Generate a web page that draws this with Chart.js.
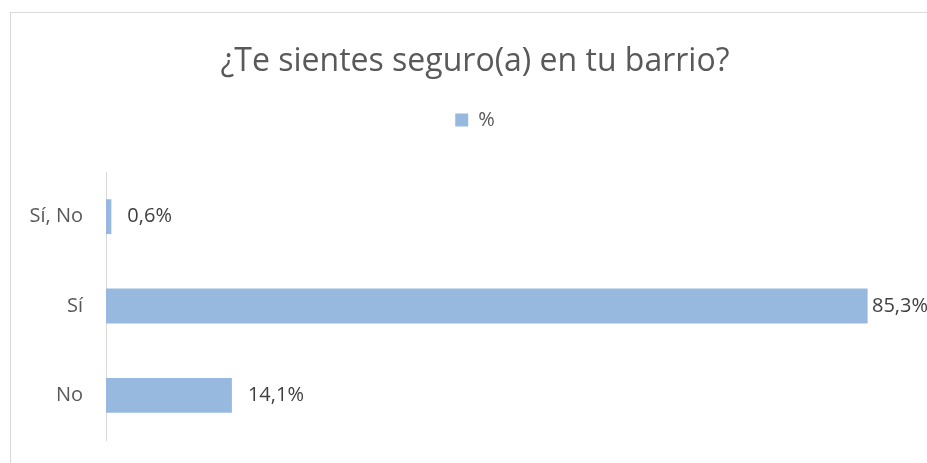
<!DOCTYPE html>
<html>
<head>
<meta charset="utf-8">
<script src="https://cdn.jsdelivr.net/npm/chart.js@4.4.0/dist/chart.umd.min.js"></script>
<style>
  html, body { margin: 0; padding: 0; background: #fff; overflow: hidden; }
  #wrap { width: 927px; height: 463px; overflow: hidden; }
</style>
</head>
<body>
<div id="wrap"><canvas id="barrioChart" width="950" height="463"></canvas></div>
<script>
// ===== datos =====
const categorias = ['Sí, No', 'Sí', 'No'];
const porcentajes = [0.6, 85.3, 14.1];
const serie = '%';
const titulo = '¿Te sientes seguro(a) en tu barrio?';

const fuente = '"Open Sans", "Noto Sans", sans-serif';

// marco gris del gráfico
const marco = {
  id: 'marco',
  beforeDraw(chart) {
    const c = chart.ctx;
    c.save();
    c.strokeStyle = '#d9d9d9';
    c.lineWidth = 1;
    c.strokeRect(10.5, 12.5, 2000, 2000);
    c.restore();
  }
};

// etiquetas de datos al final de cada barra (se recorren si no caben)
const etiquetas = {
  id: 'etiquetas',
  afterDatasetsDraw(chart) {
    const c = chart.ctx;
    const meta = chart.getDatasetMeta(0);
    c.save();
    c.font = '20px ' + fuente;
    c.fillStyle = '#404040';
    c.textBaseline = 'middle';
    c.textAlign = 'left';
    meta.data.forEach((bar, i) => {
      const txt = porcentajes[i].toFixed(1).replace('.', ',') + '%';
      const x = Math.min(bar.x + 16, 927 - 55);
      c.fillText(txt, x, bar.y);
    });
    c.restore();
  }
};

const ctx = document.getElementById('barrioChart').getContext('2d');
new Chart(ctx, {
  type: 'bar',
  data: {
    labels: categorias,
    datasets: [{
      label: serie,
      data: porcentajes,
      backgroundColor: '#97b9e0',
      borderWidth: 0,
      barPercentage: 0.39,
      categoryPercentage: 1
    }]
  },
  options: {
    indexAxis: 'y',
    responsive: false,
    animation: false,
    layout: { padding: { top: 0, right: 0, bottom: 23, left: 0 } },
    plugins: {
      title: {
        display: true,
        text: titulo,
        color: '#595959',
        font: { family: fuente, size: 32, weight: 'normal' },
        padding: { top: 43, bottom: 18.6 }
      },
      legend: {
        display: true,
        labels: {
          color: '#595959',
          font: { family: fuente, size: 20 },
          boxWidth: 13,
          boxHeight: 13,
          padding: 10
        }
      },
      tooltip: { enabled: false }
    },
    scales: {
      x: {
        position: 'top',
        min: 0,
        max: 89.6,
        grid: { display: false, drawTicks: false },
        border: { display: false },
        ticks: { display: false },
        afterFit(axis) { axis.height = 32; }
      },
      y: {
        grid: { display: false, drawTicks: false },
        border: { display: true, color: '#d9d9d9', width: 1 },
        ticks: {
          color: '#595959',
          font: { family: fuente, size: 20 },
          padding: 23
        },
        afterFit(axis) {
          axis.width = 106;
          axis.paddingTop = 0;
          axis.paddingBottom = 0;
        }
      },
      // eje vacío a la derecha solo para reservar espacio
      yDer: {
        axis: 'y',
        type: 'category',
        position: 'right',
        grid: { display: false, drawTicks: false },
        border: { display: false },
        ticks: { display: false },
        afterFit(axis) {
          axis.width = 44;
          axis.paddingTop = 0;
          axis.paddingBottom = 0;
        }
      }
    }
  },
  plugins: [marco, etiquetas]
});
</script>
</body>
</html>
